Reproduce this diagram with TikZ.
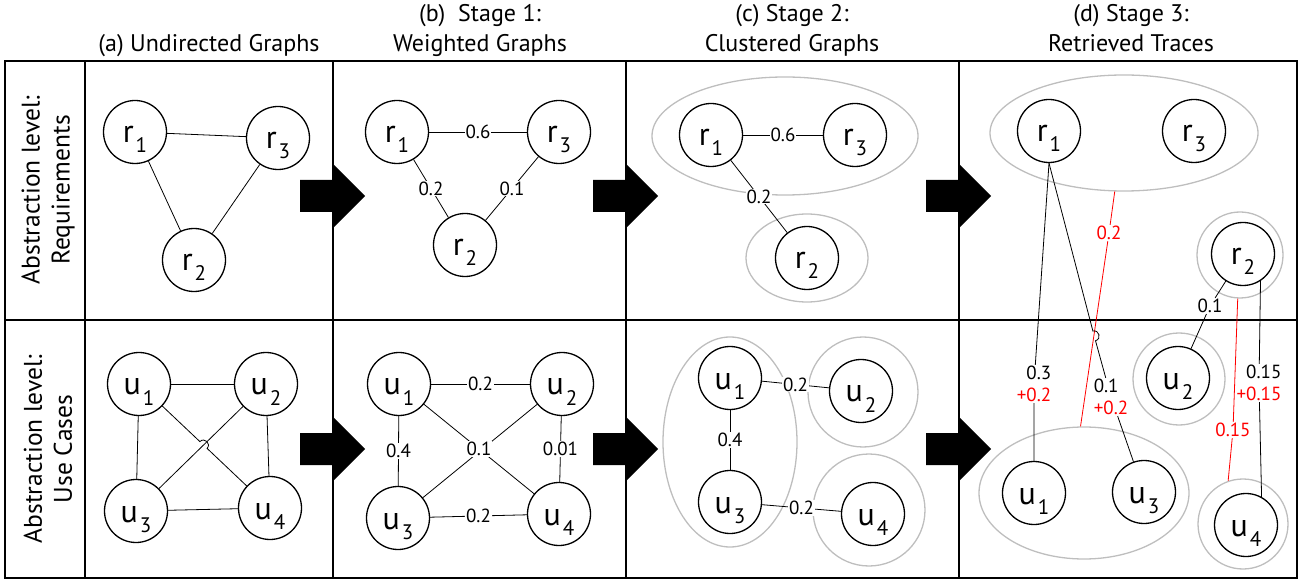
\documentclass[tikz,border=0pt]{standalone}
\usepackage{fontspec}
\setmainfont{PT Sans}
\usetikzlibrary{shapes.geometric,calc}
\definecolor{clgray}{RGB}{190,190,190}
\definecolor{tred}{RGB}{255,0,0}
\newcommand{\vlab}[2]{#1\kern2pt\raisebox{-10pt}{\fontsize{21}{21}\selectfont #2}}
\begin{document}
\begin{tikzpicture}[x=1pt,y=-1pt,
  vx/.style={circle,draw,line width=1.3pt,minimum size=63pt,inner sep=0pt,
    font=\fontsize{32}{32}\selectfont,text height=27pt,text depth=5pt},
  ed/.style={line width=0.8pt},
  wl/.style={fill=white,inner sep=1pt,font=\fontsize{19}{19}\selectfont},
  tl/.style={inner sep=1pt,font=\fontsize{19}{22}\selectfont},
  rtl/.style={inner sep=1pt,font=\fontsize{19}{22}\selectfont,text=tred},
  clE/.style={ellipse,draw=clgray,line width=1.3pt,inner sep=0pt},
  clC/.style={circle,draw=clgray,line width=1.3pt,inner sep=0pt},
  hd/.style={font=\fontsize{24}{24}\selectfont,anchor=base,inner sep=0pt},
  rowlab/.style={font=\fontsize{25.5}{30}\selectfont,rotate=90,align=center,inner sep=0pt},
  grid/.style={line width=1.2pt},
  redge/.style={line width=0.8pt,draw=tred}]
\useasboundingbox (0,0) rectangle (1307,585);

% headers
\node[hd] (ha) at (209,52) {(a) Undirected Graphs};
\node[hd] (hb1) at (480,22) {(b)\ \ Stage 1:};
\node[hd] (hb2) at (480,52) {Weighted Graphs};
\node[hd] (hc1) at (792,22) {(c) Stage 2:};
\node[hd] (hc2) at (792,52) {Clustered Graphs};
\node[hd] (hd1) at (1131,22) {(d) Stage 3:};
\node[hd] (hd2) at (1131,52) {Retrieved Traces};

% frame
\draw[grid] (85,61) -- (85,578);
\draw[grid] (333,61) -- (333,578);
\draw[grid] (626,61) -- (626,578);
\draw[grid] (959,61) -- (959,578);
\draw[grid] (5,320) -- (1297,320);
\draw[line width=1.8pt] (5,61) rectangle (1297,578);

% row labels
\node[rowlab] (rl1) at (48,190) {Abstraction level:\\Requirements};
\node[rowlab] (rl2) at (48,449) {Abstraction level:\\Use Cases};

% big arrows
\foreach \s in {333,626,959} \foreach \c in {196,449} {
  \fill (\s-33,\c-16) -- (\s,\c-16) -- (\s,\c-32) -- (\s+32,\c) -- (\s,\c+32) -- (\s,\c+16) -- (\s-33,\c+16) -- cycle;
}

% ---------- (a)
\node[vx] (ar1) at (135,132) {\vlab{r}{1}};
\node[vx] (ar3) at (278,138) {\vlab{r}{3}};
\node[vx] (ar2) at (194,260) {\vlab{r}{2}};
\draw[ed] (ar1) -- (ar3);
\draw[ed] (ar1) -- (ar2);
\draw[ed] (ar3) -- (ar2);
\node[vx] (au1) at (139,384) {\vlab{u}{1}};
\node[vx] (au2) at (266,384) {\vlab{u}{2}};
\node[vx] (au3) at (136,511) {\vlab{u}{3}};
\node[vx] (au4) at (270,508) {\vlab{u}{4}};
\coordinate (ahA) at (199.9,441.6);
\coordinate (ahB) at (207.1,448.4);
\draw[ed] (au1) -- (au2);
\draw[ed] (au1) -- (au3);
\draw[ed] (au2) -- (au4);
\draw[ed] (au3) -- (au4);
\draw[ed] (au2) -- (au3);
\draw[ed] (au1) -- (ahA) .. controls (204.4,436.9) and (211.6,443.7) .. (ahB) -- (au4);

% ---------- (b)
\node[vx] (br1) at (397,132) {\vlab{r}{1}};
\node[vx] (br3) at (559,132) {\vlab{r}{3}};
\node[vx] (br2) at (465,245) {\vlab{r}{2}};
\draw[ed] (br1) -- node[wl] (bl1) {0.6} (br3);
\draw[ed] (br1) -- node[wl] (bl2) {0.2} (br2);
\draw[ed] (br3) -- node[wl] (bl3) {0.1} (br2);
\node[vx] (bu1) at (399,384) {\vlab{u}{1}};
\node[vx] (bu2) at (562,384) {\vlab{u}{2}};
\node[vx] (bu3) at (398,518) {\vlab{u}{3}};
\node[vx] (bu4) at (559,514) {\vlab{u}{4}};
\draw[ed] (bu1) -- node[wl] (bl4) {0.2} (bu2);
\draw[ed] (bu1) -- node[wl] (bl5) {0.4} (bu3);
\draw[ed] (bu2) -- node[wl] (bl6) {0.01} (bu4);
\draw[ed] (bu3) -- node[wl] (bl7) {0.2} (bu4);
\draw[ed] (bu2) -- (bu3);
\draw[ed] (bu1) -- node[wl] (bl8) {0.1} (bu4);

% ---------- (c)
\node[clE,minimum width=266pt,minimum height=118pt] (cR13) at (785,136) {};
\node[clE,minimum width=122pt,minimum height=88pt] (cR2) at (807,258) {};
\node[vx] (cr1) at (711,135) {\vlab{r}{1}};
\node[vx] (cr3) at (855,135) {\vlab{r}{3}};
\node[vx] (cr2) at (807,258) {\vlab{r}{2}};
\draw[ed] (cr1) -- node[wl] (cl1) {0.6} (cr3);
\draw[ed] (cr1) -- node[wl] (cl2) {0.2} (cr2);
\node[clE,minimum width=134pt,minimum height=210pt] (cU13) at (730,442) {};
\node[clC,minimum size=110pt] (cU2) at (863,392) {};
\node[clC,minimum size=112pt] (cU4) at (869,510) {};
\node[vx] (cu1) at (730,378) {\vlab{u}{1}};
\node[vx] (cu2) at (861,391) {\vlab{u}{2}};
\node[vx] (cu3) at (730,502) {\vlab{u}{3}};
\node[vx] (cu4) at (873,514) {\vlab{u}{4}};
\draw[ed] (cu1) -- node[wl] (cl3) {0.2} (cu2);
\draw[ed] (cu1) -- node[wl] (cl4) {0.4} (cu3);
\draw[ed] (cu3) -- node[wl] (cl5) {0.2} (cu4);

% ---------- (d)
\node[clE,minimum width=268pt,minimum height=116pt] (dR13) at (1124,133) {};
\node[clC,minimum size=86pt] (dR2) at (1240,255) {};
\node[clE,minimum width=210pt,minimum height=132pt] (dU13) at (1084,493) {};
\node[clC,minimum size=92pt] (dU2) at (1179,379) {};
\node[clC,minimum size=90pt] (dU4) at (1243,524) {};
\node[vx] (dr1) at (1049,131) {\vlab{r}{1}};
\node[vx] (dr3) at (1194,131) {\vlab{r}{3}};
\node[vx] (dr2) at (1243,254) {\vlab{r}{2}};
\node[vx] (du1) at (1034,493) {\vlab{u}{1}};
\node[vx] (du3) at (1144,492) {\vlab{u}{3}};
\node[vx] (du2) at (1178,378) {\vlab{u}{2}};
\node[vx] (du4) at (1246,525) {\vlab{u}{4}};

\node[tl,align=right] (dl1) at (1034,384) {0.3\\\textcolor{tred}{+0.2}};
\node[tl,align=left] (dl2) at (1111,397) {0.1\\\textcolor{tred}{+0.2}};
\node[tl] (dl3) at (1210,306) {0.1};
\node[tl,align=right] (dl4) at (1259,383) {0.15\\\textcolor{tred}{+0.15}};
\node[rtl] (dl5) at (1109,233) {0.2};
\node[rtl] (dl6) at (1233,430) {0.15};

\draw[redge] (dR13.261) -- (dl5) -- (dU13.93);
\draw[redge] (dR2.267) -- (dl6) -- (dU4.109);

\coordinate (dhA) at (1092.9,331.1);
\coordinate (dhB) at (1095.5,340.7);
\draw[ed] (dr1.south) -- (dl1) -- (du1);
\draw[ed] (dr1.south) -- (dhA) .. controls (1099.2,329.5) and (1101.8,339.1) .. (dhB) -- (dl2) -- (du3);
\draw[ed] (dr2) -- (dl3) -- (du2);
\draw[ed] (dr2.-57) -- (dl4) -- (du4.61);
\end{tikzpicture}
\end{document}
